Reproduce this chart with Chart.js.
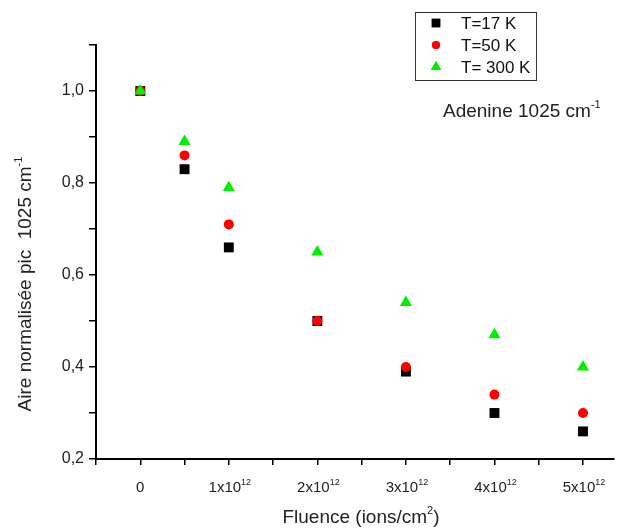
<!DOCTYPE html>
<html>
<head>
<meta charset="utf-8">
<script src="https://cdn.jsdelivr.net/npm/chart.js@4/dist/chart.umd.min.js"></script>
<style>
  html, body { margin: 0; padding: 0; background: #fff; }
  canvas { display: block; }
</style>
</head>
<body>
<canvas id="fluenceChart" width="624" height="529"></canvas>
<script>
// fluence in units of 1e12 ions/cm2
var fluence = [0, 0.5, 1, 2, 3, 4, 5];
var aire17K = [1.00, 0.83, 0.66, 0.50, 0.39, 0.30, 0.26];
var aire50K = [1.00, 0.86, 0.71, 0.50, 0.40, 0.34, 0.30];
var aire300K = [1.00, 0.89, 0.79, 0.65, 0.54, 0.47, 0.40];
var seriesLabels = ['T=17 K', 'T=50 K', 'T= 300 K'];
var xTickValues = [-0.5, 0, 0.5, 1, 1.5, 2, 2.5, 3, 3.5, 4, 4.5, 5];
var xLabelValues = [0, 1, 2, 3, 4, 5];
var yTickValues = [0.2, 0.3, 0.4, 0.5, 0.6, 0.7, 0.8, 0.9, 1.0, 1.1];

var FONT = '"Liberation Sans", Arial, sans-serif';

function toPoints(ys) {
    return fluence.map(function(x, i) { return { x: x, y: ys[i] }; });
}

// draws text made of [text, isSuperscript] parts
function drawParts(ctx, parts, x, y, size, align) {
    var supSize = Math.round(size * 0.6);
    var total = 0;
    parts.forEach(function(p) {
        ctx.font = (p[1] ? supSize : size) + 'px ' + FONT;
        total += ctx.measureText(p[0]).width;
    });
    var cx = align === 'center' ? x - total / 2 : x;
    ctx.textAlign = 'left';
    ctx.textBaseline = 'alphabetic';
    parts.forEach(function(p) {
        ctx.font = (p[1] ? supSize : size) + 'px ' + FONT;
        ctx.fillText(p[0], cx, p[1] ? y - size * 0.48 : y);
        cx += ctx.measureText(p[0]).width;
    });
}

var markers = [
    { style: 'rect', color: '#000000', radius: 7 },
    { style: 'circle', color: '#ff0000', radius: 5 },
    { style: 'triangle', color: '#00ee00', radius: 7 }
];

var textPlugin = {
    id: 'textPlugin',
    afterDraw: function(chart) {
        var ctx = chart.ctx;
        var xs = chart.scales.x;
        ctx.save();
        ctx.fillStyle = '#222';

        // x tick labels
        xLabelValues.forEach(function(v) {
            var px = xs.getPixelForValue(v);
            if (v === 0) {
                drawParts(ctx, [['0', false]], px, 492, 15, 'center');
            } else {
                drawParts(ctx, [[v + 'x10', false], ['12', true]], px + 1, 492, 15, 'center');
            }
        });

        // axis titles
        drawParts(ctx, [['Fluence (ions/cm', false], ['2', true], [')', false]], 361, 523, 19, 'center');
        ctx.save();
        ctx.translate(31, 284);
        ctx.rotate(-Math.PI / 2);
        drawParts(ctx, [['Aire normalisée pic  1025 cm', false], ['-1', true]], 0, 0, 19, 'center');
        ctx.restore();

        // annotation
        drawParts(ctx, [['Adenine 1025 cm', false], ['-1', true]], 443, 117, 19, 'left');

        // legend box
        ctx.strokeStyle = '#333';
        ctx.lineWidth = 1;
        ctx.strokeRect(415.5, 12.5, 121, 68);
        var rows = [23, 45, 67];
        markers.forEach(function(m, i) {
            ctx.fillStyle = m.color;
            ctx.strokeStyle = m.color;
            Chart.helpers.drawPoint(ctx, { pointStyle: m.style, radius: m.radius - 1, borderWidth: 0 }, 436, rows[i]);
            ctx.fill();
            ctx.fillStyle = '#111';
            drawParts(ctx, [[seriesLabels[i], false]], 461, rows[i] + 6, 17, 'left');
        });
        ctx.restore();
    }
};

var ctx = document.getElementById('fluenceChart').getContext('2d');
var datasets = [aire17K, aire50K, aire300K].map(function(ys, i) {
    return {
        label: seriesLabels[i],
        data: toPoints(ys),
        pointStyle: markers[i].style,
        pointRadius: markers[i].radius,
        pointBackgroundColor: markers[i].color,
        pointBorderColor: markers[i].color,
        pointBorderWidth: 0,
        showLine: false,
        order: 2 - i
    };
});

var chart = new Chart(ctx, {
    type: 'scatter',
    data: { datasets: datasets },
    options: {
        responsive: false,
        animation: false,
        devicePixelRatio: 1,
        layout: { padding: { top: 45, right: 10, bottom: 64, left: 0 } },
        plugins: {
            legend: { display: false },
            tooltip: { enabled: false }
        },
        scales: {
            x: {
                type: 'linear',
                min: -0.5,
                max: 5.35,
                afterBuildTicks: function(scale) {
                    scale.ticks = xTickValues.map(function(v) { return { value: v }; });
                },
                grid: {
                    drawOnChartArea: false,
                    drawTicks: true,
                    tickLength: 6,
                    tickColor: '#000',
                    lineWidth: 1.5
                },
                border: { display: true, color: '#000', width: 2 },
                ticks: { display: false }
            },
            y: {
                min: 0.2,
                max: 1.1,
                afterBuildTicks: function(scale) {
                    scale.ticks = yTickValues.map(function(v) { return { value: v }; });
                },
                afterFit: function(scale) { scale.width = 96; },
                grid: {
                    drawOnChartArea: false,
                    drawTicks: true,
                    tickLength: 7,
                    tickColor: '#000',
                    lineWidth: 1.5
                },
                border: { display: true, color: '#000', width: 2 },
                ticks: {
                    color: '#222',
                    padding: 5,
                    font: { family: FONT, size: 16 },
                    callback: function(v) {
                        var k = Math.round(v * 10);
                        return k % 2 === 0 ? (k / 10).toFixed(1).replace('.', ',') : '';
                    }
                }
            }
        }
    },
    plugins: [textPlugin]
});
</script>
</body>
</html>
